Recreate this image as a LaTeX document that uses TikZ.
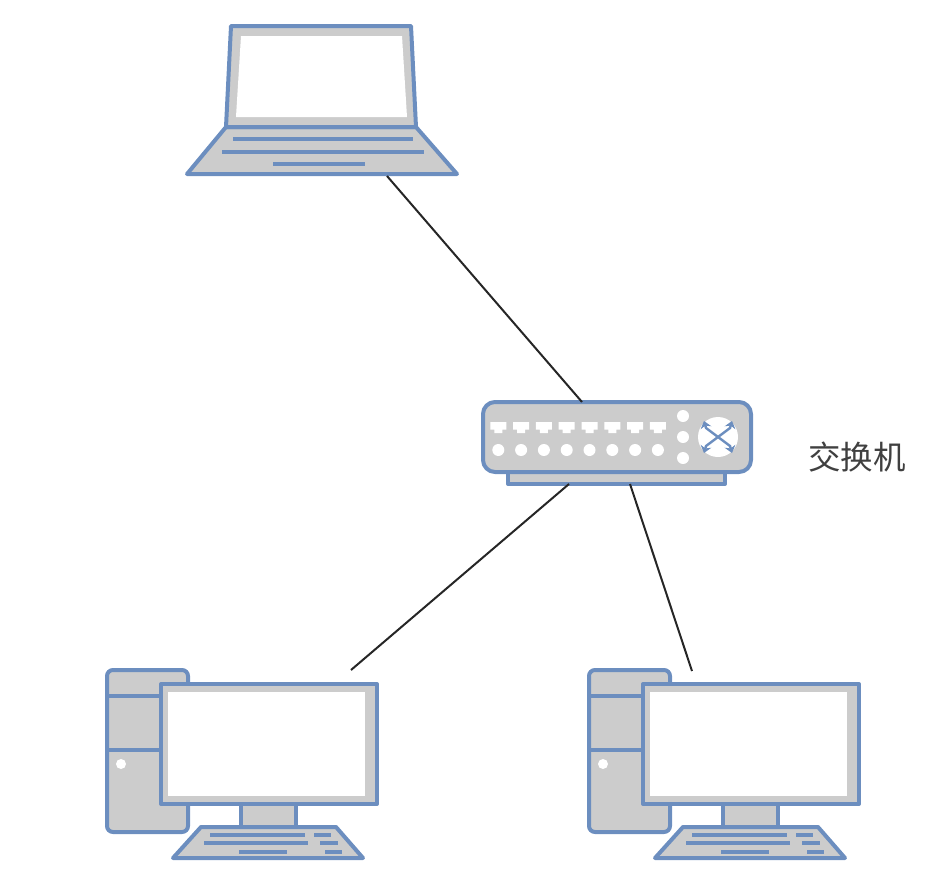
\documentclass[tikz,border=0pt]{standalone}
\usepackage{fontspec}
\newfontfamily\cjk{Noto Sans CJK SC}
\usetikzlibrary{arrows.meta}
\definecolor{iconblue}{RGB}{108,142,191}
\definecolor{icongray}{RGB}{204,204,204}

\tikzset{
    part/.style={draw=iconblue, fill=icongray, line width=4pt, line join=round},
    glass/.style={fill=white, draw=none},
    keyline/.style={draw=iconblue, line width=4pt},
    link/.style={draw=black!85, line width=2pt},
    hole/.style={fill=white, draw=none},
    crossarrow/.style={draw=iconblue, line width=2.4pt, {Stealth[length=7pt,width=11pt]}-{Stealth[length=7pt,width=11pt]}},
    laptopicon/.pic={
        \draw[part] (39,101) -- (0,148) -- (270,148) -- (229,101) -- cycle;
        \draw[part] (44,0) -- (224,0) -- (229,101) -- (39,101) -- cycle;
        \fill[glass] (54,10) -- (215,10) -- (220,91) -- (49,91) -- cycle;
        \draw[keyline] (46,113) -- (226,113);
        \draw[keyline] (35,126) -- (237,126);
        \draw[keyline] (86,138) -- (178,138);
    },
    switchicon/.pic={
        \draw[part] (25,65) rectangle (242,82);
        \draw[part, rounded corners=12pt] (0,0) rectangle (268,70);
        \foreach \i in {0,...,7} {
            \fill[hole] ({15.3+22.8*\i-8},20) -- ++(16,0) -- ++(0,7.5) -- ++(-4,0)
                -- ++(0,3.5) -- ++(-8,0) -- ++(0,-3.5) -- ++(-4,0) -- cycle;
            \fill[hole] ({15.3+22.8*\i},48) circle (6);
        }
        \foreach \y in {14,35,56} {
            \fill[hole] (200,\y) circle (6);
        }
        \fill[hole] (235,35) circle (20);
        \draw[crossarrow] (221,19) -- (223,26) -- (247,44) -- (249,51);
        \draw[crossarrow] (249,19) -- (247,26) -- (223,44) -- (221,51);
    },
    pcicon/.pic={
        \draw[part, rounded corners=6pt] (0,0) rectangle (81,162);
        \draw[keyline] (0,26) -- (54,26);
        \draw[keyline] (0,80) -- (54,80);
        \fill[hole] (14,94) circle (5);
        \draw[part] (134,134) rectangle (189,157);
        \draw[part] (54,14) rectangle (270,134);
        \fill[glass] (61,22) rectangle (258,126);
        \draw[part] (94,157) -- (229,157) -- (256,188) -- (66,188) -- cycle;
        \draw[keyline] (103,165) -- (198,165);
        \draw[keyline] (207,165) -- (224,165);
        \draw[keyline] (97,173) -- (201,173);
        \draw[keyline] (213,173) -- (231,173);
        \draw[keyline] (132,182) -- (180,182);
        \draw[keyline] (218,182) -- (235,182);
    }
}

\begin{document}
\begin{tikzpicture}[x=1pt, y=-1pt]
\useasboundingbox (0,0) rectangle (946,886);

\pic at (187,26) {laptopicon};
\pic at (483,402) {switchicon};
\pic at (107,670) {pcicon};
\pic at (589,670) {pcicon};

\node[font=\cjk, scale=3.25, text=black!75] (switchlabel) at (857,457) {交换机};

\coordinate (laptopport) at (387,176);
\coordinate (switchtop) at (582,402);
\coordinate (switchleft) at (569,484);
\coordinate (switchright) at (630,484);
\coordinate (pcleft) at (351,670);
\coordinate (pcright) at (692,671);

\draw[link] (laptopport) -- (switchtop);
\draw[link] (switchleft) -- (pcleft);
\draw[link] (switchright) -- (pcright);
\end{tikzpicture}
\end{document}
